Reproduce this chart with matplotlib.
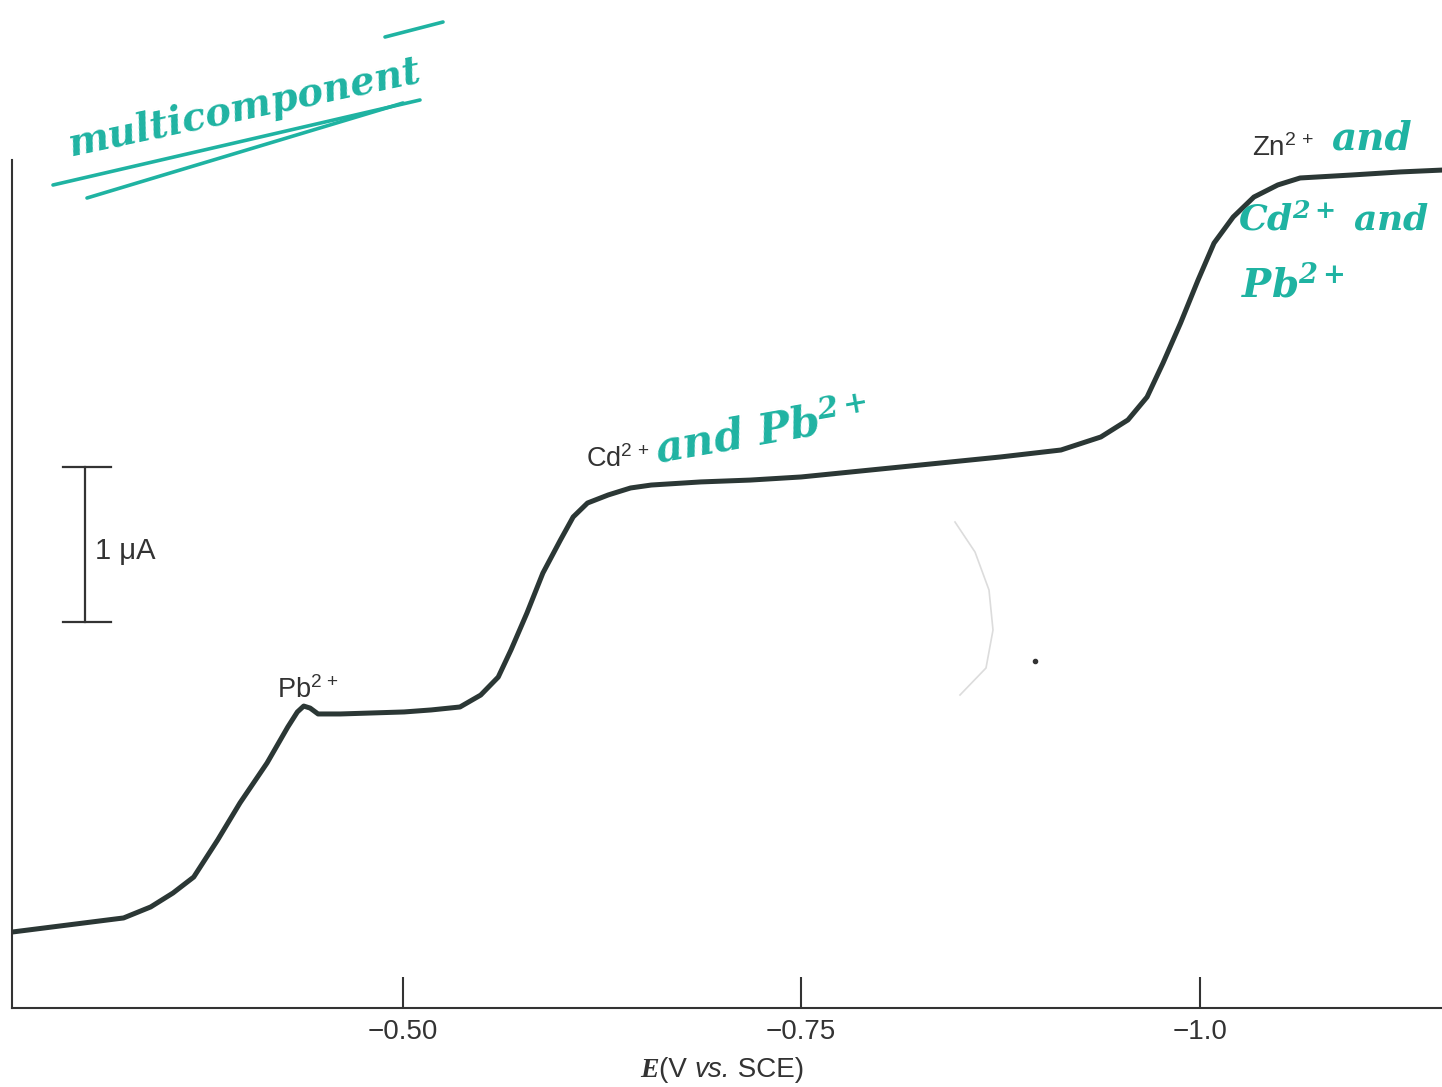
import matplotlib
matplotlib.use("Agg")
import matplotlib.pyplot as plt
from matplotlib.offsetbox import TextArea, HPacker, AnnotationBbox

W, H = 1442, 1087

# polarogram trace: potential (V vs. SCE) and current (uA)
potential = [-0.255, -0.285, -0.325, -0.342, -0.356, -0.369, -0.384, -0.398,
             -0.415, -0.428, -0.434, -0.438, -0.442, -0.447, -0.461, -0.501,
             -0.518, -0.536, -0.549, -0.560, -0.568, -0.578, -0.588, -0.599,
             -0.607, -0.616, -0.629, -0.643, -0.656, -0.687, -0.718, -0.750,
             -0.781, -0.812, -0.844, -0.875, -0.913, -0.938, -0.955, -0.967,
             -0.977, -0.988, -0.999, -1.009, -1.021, -1.034, -1.049, -1.063,
             -1.095, -1.126, -1.152]
current = [0.490, 0.529, 0.581, 0.652, 0.742, 0.845, 1.084, 1.323,
           1.581, 1.813, 1.910, 1.948, 1.935, 1.897, 1.897, 1.910,
           1.923, 1.942, 2.019, 2.135, 2.310, 2.548, 2.806, 3.019,
           3.168, 3.258, 3.310, 3.355, 3.374, 3.394, 3.406, 3.426,
           3.458, 3.490, 3.523, 3.555, 3.600, 3.684, 3.794, 3.942,
           4.161, 4.419, 4.697, 4.935, 5.103, 5.232, 5.310, 5.355,
           5.374, 5.394, 5.406]

tick_values = [-0.50, -0.75, -1.0]
tick_labels = ["\u22120.50", "\u22120.75", "\u22121.0"]

# wave labels: (text, E, i, size)
wave_labels = [("Pb$^{2\\,+}$", -0.421, 2.0, 19.5),
               ("Cd$^{2\\,+}$", -0.615, 3.49, 19.5),
               ("Zn$^{2\\,+}$", -1.033, 5.50, 20)]

ink = "#2b3735"
axis_c = "#333333"
teal = "#1fb3a2"

plt.rcParams["font.family"] = ["Liberation Sans", "DejaVu Sans"]
plt.rcParams["mathtext.fontset"] = "custom"
plt.rcParams["mathtext.rm"] = "Liberation Sans"
plt.rcParams["mathtext.it"] = "Liberation Sans:italic"
plt.rcParams["mathtext.default"] = "regular"


def px(x, y):
    return x / W, 1 - y / H


fig = plt.figure(figsize=(W / 100, H / 100), dpi=100)
ax = fig.add_axes([12 / W, 1 - 1008 / H, 1 - 12 / W, (1008 - 160) / H])
ax.set_xlim(-0.255, -1.152)
ax.set_ylim(0, 848 / 155)

ax.plot(potential, current, color=ink, lw=3.6, solid_capstyle="round",
        solid_joinstyle="round")

for side in ("top", "right"):
    ax.spines[side].set_visible(False)
for side in ("left", "bottom"):
    ax.spines[side].set_color(axis_c)
    ax.spines[side].set_linewidth(1.5)

ax.set_yticks([])
ax.set_xticks(tick_values)
ax.set_xticklabels(tick_labels, fontsize=20, color=axis_c)
ax.tick_params(axis="x", direction="in", length=22, width=1.5,
               color=axis_c, pad=8)

# 1 uA scale bar
bar_x, bar_lo = -0.301, 2.49
ax.plot([bar_x, bar_x], [bar_lo, bar_lo + 1], color=axis_c, lw=1.6)
for yy in (bar_lo, bar_lo + 1):
    ax.plot([bar_x + 0.014, bar_x - 0.016], [yy, yy], color=axis_c, lw=1.6)
ax.text(-0.307, 2.95, "1 \u03bcA", fontsize=21, color=axis_c,
        ha="left", va="center")

for txt, e, i, size in wave_labels:
    ax.text(e, i, txt, fontsize=size, color=axis_c, ha="left",
            va="baseline")

# axis title: E(V vs. SCE)
parts = [TextArea("E", textprops=dict(family="Liberation Serif", style="italic",
                                       weight="bold", size=20, color=axis_c)),
         TextArea("(V ", textprops=dict(size=20, color=axis_c)),
         TextArea("vs.", textprops=dict(size=20, style="italic",
                                        color=axis_c)),
         TextArea(" SCE)", textprops=dict(size=20, color=axis_c))]
title = HPacker(children=parts, align="baseline", pad=0, sep=0)
ab = AnnotationBbox(title, px(722, 1070), xycoords="figure fraction",
                    frameon=False, box_alignment=(0.5, 0.5))
fig.add_artist(ab)

# handwritten notes
hand = dict(family="DejaVu Serif", style="italic", weight="bold", color=teal)
fig.text(*px(245, 108), "multicomponent", rotation=12, fontsize=28,
         ha="center", va="center", **hand)
for (x0, y0), (x1, y1) in [((53, 185), (420, 100)), ((87, 198), (403, 103)),
                           ((385, 37), (443, 22))]:
    fig.add_artist(plt.Line2D([x0 / W, x1 / W], [1 - y0 / H, 1 - y1 / H],
                              color=teal, lw=2.6, solid_capstyle="round",
                              transform=fig.transFigure))
fig.text(*px(762, 433), "and Pb$^{2+}$", rotation=10, fontsize=31,
         ha="center", va="center", **hand)
fig.text(*px(1372, 138), "and", fontsize=28, ha="center", va="center", **hand)
fig.text(*px(1334, 220), "Cd$^{2+}$ and", fontsize=26, ha="center",
         va="center", **hand)
fig.text(*px(1293, 285), "Pb$^{2+}$", fontsize=28, ha="center", va="center",
         **hand)

# faint pencil stroke and speck
arc = [(955, 522), (975, 552), (989, 590), (993, 630), (986, 668), (960, 695)]
fig.add_artist(plt.Line2D([p[0] / W for p in arc], [1 - p[1] / H for p in arc],
                          color="#dcdcdc", lw=1.2, transform=fig.transFigure))
fig.add_artist(plt.Line2D([1035 / W], [1 - 661 / H], marker="o", ms=3,
                          color=axis_c, transform=fig.transFigure))

fig.savefig("out.png", dpi=100, facecolor="white")
